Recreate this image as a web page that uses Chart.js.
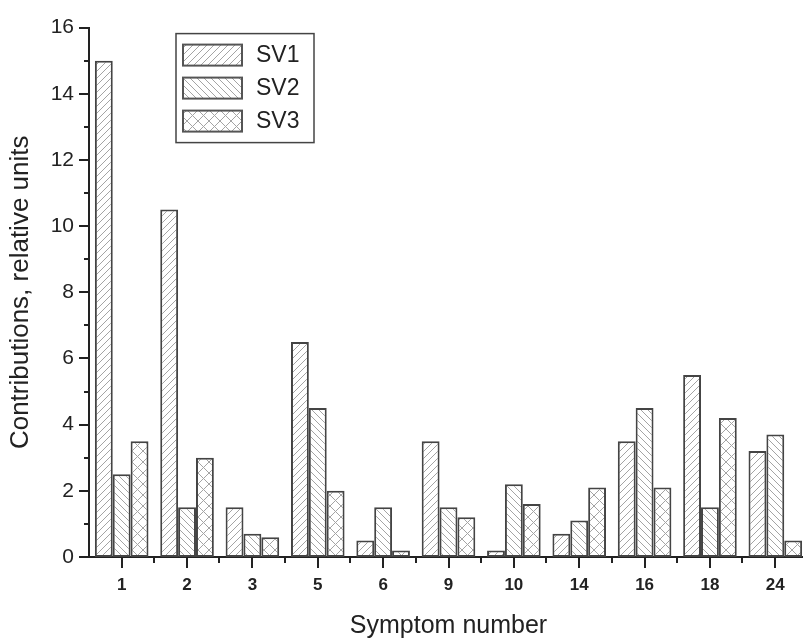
<!DOCTYPE html>
<html>
<head>
<meta charset="utf-8">
<script src="https://cdn.jsdelivr.net/npm/chart.js@4.4.1/dist/chart.umd.min.js"></script>
<style>
  html, body { margin: 0; padding: 0; background: #fff; overflow: hidden; }
  #wrap { width: 803px; height: 643px; overflow: hidden; }
</style>
</head>
<body>
<div id="wrap"><canvas id="chart" width="812" height="643"></canvas></div>
<script>
// Symptom categories and the three singular-vector contributions
const symptoms = ['1', '2', '3', '5', '6', '9', '10', '14', '16', '18', '24'];
const sv1 = [15, 10.5, 1.5, 6.5, 0.5, 3.5, 0.2, 0.7, 3.5, 5.5, 3.2];
const sv2 = [2.5, 1.5, 0.7, 4.5, 1.5, 1.5, 2.2, 1.1, 4.5, 1.5, 3.7];
const sv3 = [3.5, 3.0, 0.6, 2.0, 0.2, 1.2, 1.6, 2.1, 2.1, 4.2, 0.5];
const seriesNames = ['SV1', 'SV2', 'SV3'];
const yMin = 0, yMax = 16, yStep = 2;

const FONT = '"Liberation Sans", Arial, Helvetica, sans-serif';
const INK = '#222';
const EDGE = '#444';

const canvas = document.getElementById('chart');
const ctx = canvas.getContext('2d');

// Hatch fills: '/' lines, '\' lines, and cross-hatch
function makeHatch(kind, size) {
  const c = document.createElement('canvas');
  c.width = size; c.height = size;
  const g = c.getContext('2d');
  g.fillStyle = '#fff';
  g.fillRect(0, 0, size, size);
  g.strokeStyle = '#a4a4a4';
  g.lineWidth = 1;
  g.beginPath();
  if (kind === 'fwd' || kind === 'cross') {
    g.moveTo(-1, size + 1); g.lineTo(size + 1, -1);
    g.moveTo(-1, 1); g.lineTo(1, -1);
    g.moveTo(size - 1, size + 1); g.lineTo(size + 1, size - 1);
  }
  if (kind === 'back' || kind === 'cross') {
    g.moveTo(-1, -1); g.lineTo(size + 1, size + 1);
    g.moveTo(size - 1, -1); g.lineTo(size + 1, 1);
    g.moveTo(-1, size - 1); g.lineTo(1, size + 1);
  }
  g.stroke();
  return ctx.createPattern(c, 'repeat');
}

const fills = [makeHatch('fwd', 7), makeHatch('back', 7), makeHatch('cross', 11)];
const values = [sv1, sv2, sv3];

// Tick marks: long at labelled values / category centres, short in between
const tickMarks = {
  id: 'tickMarks',
  afterDraw(chart) {
    const { ctx, scales: { x, y }, chartArea } = chart;
    ctx.save();
    ctx.strokeStyle = INK;
    ctx.lineWidth = 2;
    ctx.beginPath();
    for (let v = yMin; v <= yMax; v++) {
      const py = Math.round(y.getPixelForValue(v));
      const len = v % yStep === 0 ? 10 : 5;
      ctx.moveTo(chartArea.left, py);
      ctx.lineTo(chartArea.left - len, py);
    }
    const n = symptoms.length;
    const step = x.getPixelForValue(1) - x.getPixelForValue(0);
    for (let i = 0; i < n; i++) {
      const px = Math.round(x.getPixelForValue(i));
      ctx.moveTo(px, chartArea.bottom);
      ctx.lineTo(px, chartArea.bottom + 11);
      if (i > 0) {
        const bx = Math.round(px - step / 2);
        ctx.moveTo(bx, chartArea.bottom);
        ctx.lineTo(bx, chartArea.bottom + 6);
      }
    }
    ctx.stroke();
    ctx.restore();
  }
};

// Boxed legend inside the plot area
const boxLegend = {
  id: 'boxLegend',
  afterDraw(chart) {
    const { ctx, chartArea } = chart;
    const left = chartArea.left + 87, top = chartArea.top + 6;
    const w = 138, h = 109;
    ctx.save();
    ctx.fillStyle = '#fff';
    ctx.fillRect(left, top, w, h);
    ctx.strokeStyle = '#444';
    ctx.lineWidth = 1.5;
    ctx.strokeRect(left, top, w, h);
    chart.data.datasets.forEach((ds, i) => {
      const sx = left + 7, sy = top + 11 + i * 33;
      ctx.fillStyle = ds.backgroundColor;
      ctx.fillRect(sx, sy, 59, 21);
      ctx.strokeStyle = '#555';
      ctx.lineWidth = 2;
      ctx.strokeRect(sx, sy, 59, 21);
      ctx.fillStyle = INK;
      ctx.font = '23px ' + FONT;
      ctx.textBaseline = 'middle';
      ctx.textAlign = 'left';
      ctx.fillText(ds.label, sx + 73, sy + 11);
    });
    ctx.restore();
  }
};

new Chart(canvas, {
  type: 'bar',
  data: {
    labels: symptoms,
    datasets: seriesNames.map((name, i) => ({
      label: name,
      data: values[i],
      backgroundColor: fills[i],
      borderColor: EDGE,
      borderWidth: 2,
      borderSkipped: false,
      categoryPercentage: 0.82,
      barPercentage: 1.0
    }))
  },
  options: {
    responsive: false,
    animation: false,
    devicePixelRatio: 1,
    layout: { padding: { top: 18, right: 4, left: 0, bottom: 0 } },
    plugins: {
      legend: { display: false },
      tooltip: { enabled: false }
    },
    scales: {
      x: {
        type: 'category',
        offset: true,
        grid: { display: false, drawTicks: false },
        border: { display: true, color: INK, width: 2 },
        ticks: {
          color: INK,
          padding: 18,
          maxRotation: 0,
          font: { family: FONT, size: 17, weight: 'bold' }
        },
        title: {
          display: true,
          text: 'Symptom number',
          color: INK,
          padding: { top: 0, bottom: 2 },
          font: { family: FONT, size: 25 }
        },
        afterFit(scale) { scale.height = 86; }
      },
      y: {
        min: yMin,
        max: yMax,
        grid: { display: false, drawTicks: false },
        border: { display: true, color: INK, width: 2 },
        ticks: {
          stepSize: yStep,
          color: INK,
          padding: 15,
          font: { family: FONT, size: 21 }
        },
        title: {
          display: true,
          text: 'Contributions, relative units',
          color: INK,
          padding: { top: 5, bottom: 0 },
          font: { family: FONT, size: 26 }
        },
        afterFit(scale) { scale.width = 89; }
      }
    }
  },
  plugins: [tickMarks, boxLegend]
});
</script>
</body>
</html>
